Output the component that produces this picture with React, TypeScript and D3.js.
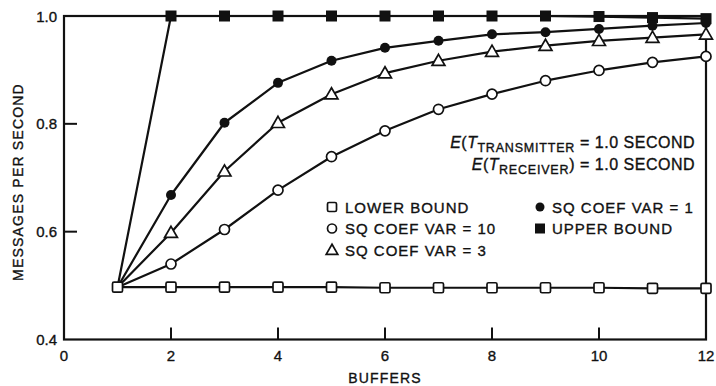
import React from "react";
import * as d3 from "d3";

// Throughput vs. number of buffers
const buffers = [1, 2, 3, 4, 5, 6, 7, 8, 9, 10, 11, 12];
const lowerBound = [0.497, 0.497, 0.497, 0.497, 0.497, 0.496, 0.496, 0.496, 0.496, 0.496, 0.495, 0.495];
const sqCoefVar10 = [0.497, 0.54, 0.604, 0.677, 0.739, 0.787, 0.827, 0.855, 0.88, 0.899, 0.914, 0.925];
const sqCoefVar3 = [0.497, 0.598, 0.712, 0.802, 0.855, 0.894, 0.917, 0.934, 0.945, 0.954, 0.96, 0.966];
const sqCoefVar1 = [0.497, 0.668, 0.802, 0.876, 0.917, 0.941, 0.954, 0.966, 0.97, 0.976, 0.982, 0.987];
const upperBound = [0.497, 1.0, 1.0, 1.0, 1.0, 1.0, 1.0, 1.0, 1.0, 0.999, 0.997, 0.995];

const xTicks = [0, 2, 4, 6, 8, 10, 12];
const yTicks = [0.4, 0.6, 0.8, 1.0];

type Marker = "openSquare" | "openCircle" | "openTriangle" | "filledCircle" | "filledSquare";

const seriesList: { name: string; values: number[]; marker: Marker }[] = [
  { name: "UPPER BOUND", values: upperBound, marker: "filledSquare" },
  { name: "SQ COEF VAR = 1", values: sqCoefVar1, marker: "filledCircle" },
  { name: "SQ COEF VAR = 3", values: sqCoefVar3, marker: "openTriangle" },
  { name: "SQ COEF VAR = 10", values: sqCoefVar10, marker: "openCircle" },
  { name: "LOWER BOUND", values: lowerBound, marker: "openSquare" },
];

const legendLeft: { label: string; marker: Marker }[] = [
  { label: "LOWER BOUND", marker: "openSquare" },
  { label: "SQ COEF VAR = 10", marker: "openCircle" },
  { label: "SQ COEF VAR = 3", marker: "openTriangle" },
];
const legendRight: { label: string; marker: Marker }[] = [
  { label: "SQ COEF VAR = 1", marker: "filledCircle" },
  { label: "UPPER BOUND", marker: "filledSquare" },
];

const W = 716;
const H = 386;
const FONT = "'Liberation Sans', Arial, Helvetica, sans-serif";
const INK = "#111";
// slight outline thickens the lettering
const TEXT_STROKE = { stroke: INK, strokeWidth: 0.35 };

const x = d3.scaleLinear().domain([0, 12]).range([64, 706]);
const y = d3.scaleLinear().domain([0.4, 1.0]).range([339.5, 16]);

function MarkerShape({ type, cx, cy, small }: { type: Marker; cx: number; cy: number; small?: boolean }) {
  const k = small ? 0.9 : 1;
  switch (type) {
    case "openSquare": {
      const s = 10 * k;
      return <rect x={cx - s / 2} y={cy - s / 2} width={s} height={s} rx={1.5} fill="#fff" stroke={INK} strokeWidth={1.7} />;
    }
    case "filledSquare": {
      const s = 10 * k;
      return <rect x={cx - s / 2} y={cy - s / 2} width={s} height={s} fill={INK} stroke={INK} strokeWidth={1} />;
    }
    case "openCircle":
      return <circle cx={cx} cy={cy} r={5 * k} fill="#fff" stroke={INK} strokeWidth={1.7} />;
    case "filledCircle":
      return <circle cx={cx} cy={cy} r={5 * k} fill={INK} />;
    case "openTriangle": {
      const sym = d3.symbol().type(d3.symbolTriangle).size(72 * k * k)();
      return <path d={sym || ""} transform={`translate(${cx},${cy + 1})`} fill="#fff" stroke={INK} strokeWidth={1.7} />;
    }
  }
}

export default function App() {
  const line = d3
    .line<number>()
    .x((_, i) => x(buffers[i]))
    .y((v) => y(v));

  return (
    <svg
      width={W}
      height={H}
      viewBox={`0 0 ${W} ${H}`}
      style={{ position: "absolute", left: 0, top: 0, background: "#fff" }}
      fontFamily={FONT}
    >
      <rect width={W} height={H} fill="#fff" />

      {/* frame */}
      <rect x={x(0)} y={y(1.0)} width={x(12) - x(0)} height={y(0.4) - y(1.0)} fill="none" stroke={INK} strokeWidth={2.2} />

      {/* inward ticks */}
      {xTicks
        .filter((t) => t > 0 && t < 12)
        .map((t) => (
          <line key={`xt${t}`} x1={x(t)} x2={x(t)} y1={y(0.4)} y2={y(0.4) - 12} stroke={INK} strokeWidth={2} />
        ))}
      {yTicks
        .filter((t) => t > 0.4 && t < 1.0)
        .map((t) => (
          <line key={`yt${t}`} x1={x(0)} x2={x(0) + 13} y1={y(t)} y2={y(t)} stroke={INK} strokeWidth={2} />
        ))}

      {/* tick labels */}
      {xTicks.map((t) => (
        <text key={`xl${t}`} x={x(t)} y={y(0.4) + 21} textAnchor="middle" fontSize={15} fill={INK} {...TEXT_STROKE}>
          {t}
        </text>
      ))}
      {yTicks.map((t) => (
        <text key={`yl${t}`} x={57} y={y(t) + 5.5} textAnchor="end" fontSize={15} fill={INK} {...TEXT_STROKE}>
          {t.toFixed(1)}
        </text>
      ))}

      {/* axis titles */}
      <text x={385} y={383} textAnchor="middle" fontSize={14} letterSpacing={1.2} fill={INK} {...TEXT_STROKE}>
        BUFFERS
      </text>
      <text
        transform="translate(23,182) rotate(-90)"
        textAnchor="middle"
        fontSize={14}
        letterSpacing={1.2}
        fill={INK}
        {...TEXT_STROKE}
      >
        MESSAGES PER SECOND
      </text>

      {/* series lines */}
      {seriesList.map((s) => (
        <path key={`l${s.name}`} d={line(s.values) || ""} fill="none" stroke={INK} strokeWidth={2.2} strokeLinejoin="round" />
      ))}

      {/* series markers */}
      {seriesList.map((s) =>
        s.values.map((v, i) =>
          buffers[i] === 1 && s.marker !== "openSquare" ? null : (
            <MarkerShape key={`m${s.name}${i}`} type={s.marker} cx={x(buffers[i])} cy={y(v)} />
          )
        )
      )}

      {/* conditions */}
      <text x={695} y={148} textAnchor="end" fontSize={16} letterSpacing={0.5} fill={INK} {...TEXT_STROKE}>
        <tspan fontStyle="italic">E</tspan>
        <tspan>(</tspan>
        <tspan fontStyle="italic">T</tspan>
        <tspan fontSize={12.5} dy={4} letterSpacing={0.8}>TRANSMITTER</tspan>
        <tspan dy={-4}> = 1.0 SECOND</tspan>
      </text>
      <text x={695} y={170} textAnchor="end" fontSize={16} letterSpacing={0.5} fill={INK} {...TEXT_STROKE}>
        <tspan fontStyle="italic">E</tspan>
        <tspan>(</tspan>
        <tspan fontStyle="italic">T</tspan>
        <tspan fontSize={12.5} dy={4} letterSpacing={0.8}>RECEIVER</tspan>
        <tspan dy={-4}>) = 1.0 SECOND</tspan>
      </text>

      {/* legend */}
      {legendLeft.map((d, i) => (
        <g key={`ll${i}`}>
          <MarkerShape type={d.marker} cx={332} cy={207 + i * 21.5} small />
          <text x={345} y={207 + i * 21.5 + 5.5} fontSize={15} letterSpacing={1} fill={INK} {...TEXT_STROKE}>
            {d.label}
          </text>
        </g>
      ))}
      {legendRight.map((d, i) => (
        <g key={`lr${i}`}>
          <MarkerShape type={d.marker} cx={540} cy={207 + i * 21.5} small />
          <text x={552} y={207 + i * 21.5 + 5.5} fontSize={15} letterSpacing={1} fill={INK} {...TEXT_STROKE}>
            {d.label}
          </text>
        </g>
      ))}
    </svg>
  );
}
